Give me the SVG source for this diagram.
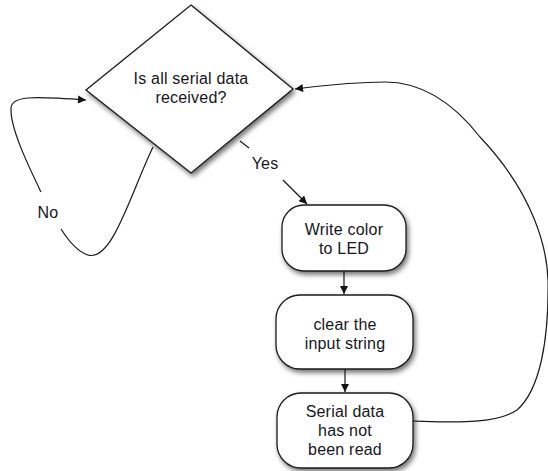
<svg xmlns="http://www.w3.org/2000/svg" width="548" height="471" viewBox="0 0 548 471">
  <style>
    .shape { fill: #ffffff; stroke: #1a1a1a; stroke-width: 1.3; filter: url(#shadow); }
    .label { font-family: "Liberation Sans", Arial, sans-serif; font-size: 16px; letter-spacing: 0.2px; fill: #16161e; text-anchor: middle; }
    .edge { fill: none; stroke: #1a1a1a; stroke-width: 1.2; }
  </style>
  <defs>
    <filter id="shadow" x="-20%" y="-20%" width="150%" height="150%">
      <feDropShadow dx="2" dy="3" stdDeviation="2.5" flood-color="#000000" flood-opacity="0.55"/>
    </filter>
    <marker id="arrow" viewBox="0 0 10 10" refX="10" refY="5" markerWidth="10" markerHeight="8" markerUnits="userSpaceOnUse" orient="auto">
      <path d="M0,0 L10,5 L0,10 z" fill="#111111"/>
    </marker>
  </defs>
  <rect width="548" height="471" fill="#ffffff"/>

  <!-- connectors -->
  <g id="connectors">
    <!-- "No" loop back into the decision -->
    <path class="edge" d="M153,147 C130,195 112,262 88,255 C78,252 68,240 61,229"/>
    <path class="edge" d="M41,192 C28,165 10,128 11,108 C12,96 30,96 86,100" marker-end="url(#arrow)"/>
    <text class="label" x="48" y="218">No</text>
    <!-- "Yes" branch -->
    <path class="edge" d="M240,141 L249,148"/>
    <path class="edge" d="M283,180 L307,204" marker-end="url(#arrow)"/>
    <text class="label" x="265" y="169">Yes</text>
    <!-- straight steps -->
    <path class="edge" d="M344,271 L344,294" marker-end="url(#arrow)"/>
    <path class="edge" d="M345,369 L345,392" marker-end="url(#arrow)"/>
    <!-- loop back to the decision -->
    <path class="edge" d="M413,421 C450,422 495,425 517,410 C540,390 549,340 548,280 C547,250 535,195 480,137 C455,105 425,82 385,82 C350,82 320,86 295,89" marker-end="url(#arrow)"/>
  </g>

  <g id="decision">
    <polygon class="shape" points="191,5 293,89 191,173 86,90"/>
    <text class="label" x="191" y="84">Is all serial data</text>
    <text class="label" x="191" y="103">received?</text>
  </g>

  <g id="write-color">
    <rect class="shape" x="282" y="205" width="124" height="66" rx="22" ry="22"/>
    <text class="label" x="344" y="235">Write color</text>
    <text class="label" x="344" y="254">to LED</text>
  </g>

  <g id="clear-input">
    <rect class="shape" x="276" y="295" width="137" height="74" rx="24" ry="24"/>
    <text class="label" x="345" y="330">clear the</text>
    <text class="label" x="345" y="349">input string</text>
  </g>

  <g id="not-read">
    <rect class="shape" x="277" y="393" width="136" height="75" rx="24" ry="24"/>
    <text class="label" x="345" y="417">Serial data</text>
    <text class="label" x="345" y="436">has not</text>
    <text class="label" x="345" y="455">been read</text>
  </g>
</svg>
